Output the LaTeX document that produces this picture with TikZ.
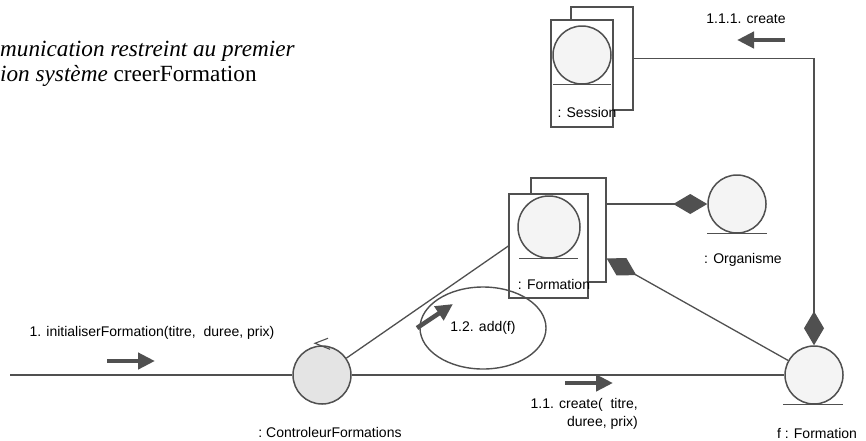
\documentclass[tikz,border=0pt]{standalone}
\usepackage{fontspec}
\setmainfont{Liberation Sans}
\newfontfamily\titlefont{Liberation Serif}
\usetikzlibrary{arrows.meta, positioning, shapes.geometric, calc}
\definecolor{linegray}{HTML}{505050}
\definecolor{objfill}{HTML}{F4F4F4}
\definecolor{ctrlfill}{HTML}{E4E4E4}

\begin{document}
\begin{tikzpicture}[
  x=1pt, y=-1pt,
  every node/.style={font=\fontsize{14}{17}\selectfont, inner sep=0pt},
  titletxt/.style={font=\titlefont\fontsize{23.2}{25}\selectfont, anchor=base west},
  objcirc/.style={circle, draw=linegray, line width=1.5pt, fill=objfill, minimum size=58pt},
  ctrlcirc/.style={objcirc, fill=ctrlfill},
  objbox/.style={rectangle, draw=linegray, line width=1.3pt, fill=white},
  msgloop/.style={ellipse, draw=linegray, line width=1.4pt, minimum width=126pt, minimum height=82pt},
  link/.style={draw=linegray, line width=1.3pt},
  comp/.style={link, {Diamond[length=34pt,width=20pt]}-},
  msg/.style={draw=linegray, fill=linegray, line width=4.5pt, -{Triangle[length=17pt,width=16pt]}}
]
\useasboundingbox (0,0) rectangle (866,440);

% Title
\node[titletxt] (title1) at (0,56) {\textit{munication restreint au premier}};
\node[titletxt] (title2) at (0,81) {\textit{ion système} creerFormation};

% Nodes
\node[ctrlcirc] (ctrl) at (322,375) {};
\node (ctrllbl) at (330,432) {:\ ControleurFormations};

\node[objcirc] (fobj) at (814,375) {};
\node (fobjlbl) at (817,433) {f : Formation};

\node[objcirc] (org) at (737,204) {};
\node (orglbl) at (743,260) {: Organisme};

\node[objbox, minimum width=75pt, minimum height=104pt] (fmback) at (568.5,230) {};
\node[objbox, minimum width=79pt, minimum height=104pt] (fmfront) at (548.5,246) {};
\node[objcirc, minimum size=62pt] (fmcirc) at (549,227) {};
\node (fmlbl) at (554,284) {: Formation};

\node[objbox, minimum width=62pt, minimum height=103pt] (ssback) at (602,58.5) {};
\node[objbox, minimum width=62pt, minimum height=107pt] (ssfront) at (582,73.5) {};
\node[objcirc] (sscirc) at (582,55) {};
\node (sslbl) at (587,112) {: Session};

\node[msgloop] (addloop) at (483,328) {1.2. add(f)};

% underlines
\draw[link] ([xshift=-30pt]fmcirc.south) -- ([xshift=29pt]fmcirc.south);
\draw[link] ([xshift=-29pt]sscirc.south) -- ([xshift=29pt]sscirc.south);
\draw[link] ([xshift=-30pt]org.south) -- ([xshift=30pt]org.south);
\draw[link] ([xshift=-31pt]fobj.south) -- ([xshift=29pt]fobj.south);

% control mark
\draw[link, line width=1.1pt] ([shift={(6,-7)}]ctrl.north) -- ([shift={(-7,-2)}]ctrl.north) -- ([shift={(8,4)}]ctrl.north);

% Edges
\coordinate (inlet) at (10,375);
\coordinate (fmdia) at ($(fmback.south east)!0.23!(fmback.north east)$);
\draw[link] (inlet) -- (ctrl);
\draw[link] (ctrl) -- (fobj);
\draw[link] (ctrl) -- (fmfront.west);
\draw[comp] (org.west) -- (org.west -| fmback.east);
\draw[comp] (fmdia) -- (fobj);
\draw[comp] (fobj.north) |- (ssback.east);

% Messages
\node (m1lbl) at (152,333) {1. initialiserFormation(titre,\ \ duree, prix)};
\coordinate (m1a) at (107,361);
\coordinate (m1b) at (155,361);
\draw[msg] (m1a) -- (m1b);

\node[align=right, anchor=east, font=\fontsize{14}{18}\selectfont] (m11lbl) at (638,414) {1.1. create(\ \ titre,\\duree, prix)};
\coordinate (m11a) at (565,383);
\coordinate (m11b) at (613,383);
\draw[msg] (m11a) -- (m11b);

\node (m111lbl) at (746,19) {1.1.1. create};
\coordinate (m111a) at (785,40);
\coordinate (m111b) at (737,40);
\draw[msg] (m111a) -- (m111b);

\coordinate (m12a) at (417,328);
\coordinate (m12b) at (453,304);
\draw[msg] (m12a) -- (m12b);

\end{tikzpicture}
\end{document}
